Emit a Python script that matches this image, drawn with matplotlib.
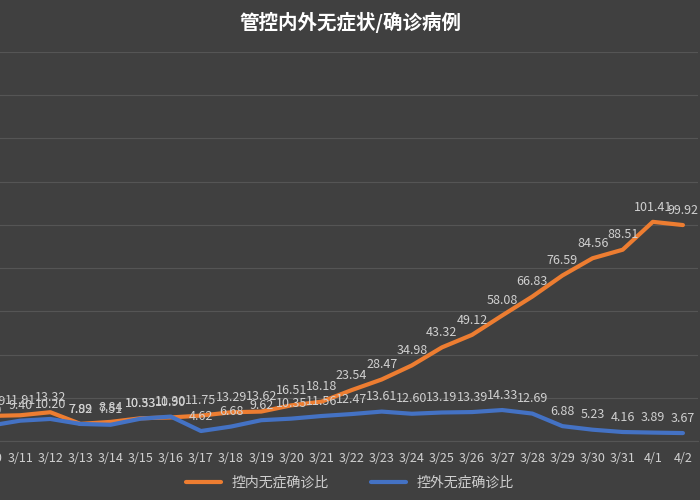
import matplotlib
matplotlib.use("Agg")
import matplotlib.pyplot as plt

plt.rcParams["font.family"] = ["Noto Sans CJK SC", "Noto Sans CJK JP", "Noto Sans CJK TC", "DejaVu Sans"]

dates = ["3/10","3/11","3/12","3/13","3/14","3/15","3/16","3/17","3/18","3/19","3/20","3/21",
         "3/22","3/23","3/24","3/25","3/26","3/27","3/28","3/29","3/30","3/31","4/1","4/2"]
inner = [11.59,11.91,13.32,7.92,8.84,10.53,10.90,11.75,13.29,13.62,16.51,18.18,
         23.54,28.47,34.98,43.32,49.12,58.08,66.83,76.59,84.56,88.51,101.41,99.92]
outer = [7.10,9.40,10.20,7.89,7.51,10.33,11.30,4.62,6.68,9.62,10.35,11.56,
         12.47,13.61,12.60,13.19,13.39,14.33,12.69,6.88,5.23,4.16,3.89,3.67]

bg = "#404040"
fig = plt.figure(figsize=(7, 5), dpi=100, facecolor=bg)
n = len(dates)
# axes partly outside the figure (reference is a crop)
ax = fig.add_axes([-25/700, 59/500, 723/700, 389/500], facecolor=bg)
x = list(range(n))
ax.plot(x, inner, color="#ED7D31", lw=3, label="控内无症确诊比", solid_capstyle="round")
ax.plot(x, outer, color="#4472C4", lw=3, label="控外无症确诊比", solid_capstyle="round")
for i in x:
    ax.annotate(f"{inner[i]:.2f}", (i, inner[i]), xytext=(0, 6), textcoords="offset points",
                ha="center", va="bottom", color="#d0d0d0", fontsize=9)
    ax.annotate(f"{outer[i]:.2f}", (i, outer[i]), xytext=(0, 6), textcoords="offset points",
                ha="center", va="bottom", color="#d0d0d0", fontsize=9)
ax.set_xlim(-0.5, n - 0.5)
ax.set_ylim(0, 180)
ax.set_yticks(range(0, 181, 20))
ax.set_yticklabels([])
ax.tick_params(axis="y", length=0)
ax.grid(axis="y", color="#555555", lw=0.8)
ax.set_axisbelow(True)
ax.set_xticks(x)
ax.set_xticklabels(dates, color="#d0d0d0", fontsize=9)
ax.tick_params(axis="x", length=0, pad=8)
for s in ax.spines.values():
    s.set_visible(False)
ax.spines["bottom"].set_visible(True)
ax.spines["bottom"].set_color("#555555")
fig.text(0.5, 0.955, "管控内外无症状/确诊病例", ha="center", va="center",
         color="white", fontsize=14, fontweight="bold")
fig.legend(loc="center", bbox_to_anchor=(0.5, 0.035), ncol=2, frameon=False,
           labelcolor="#d0d0d0", fontsize=10, handlelength=2.5, columnspacing=3)
fig.savefig("out.png", facecolor=bg)
